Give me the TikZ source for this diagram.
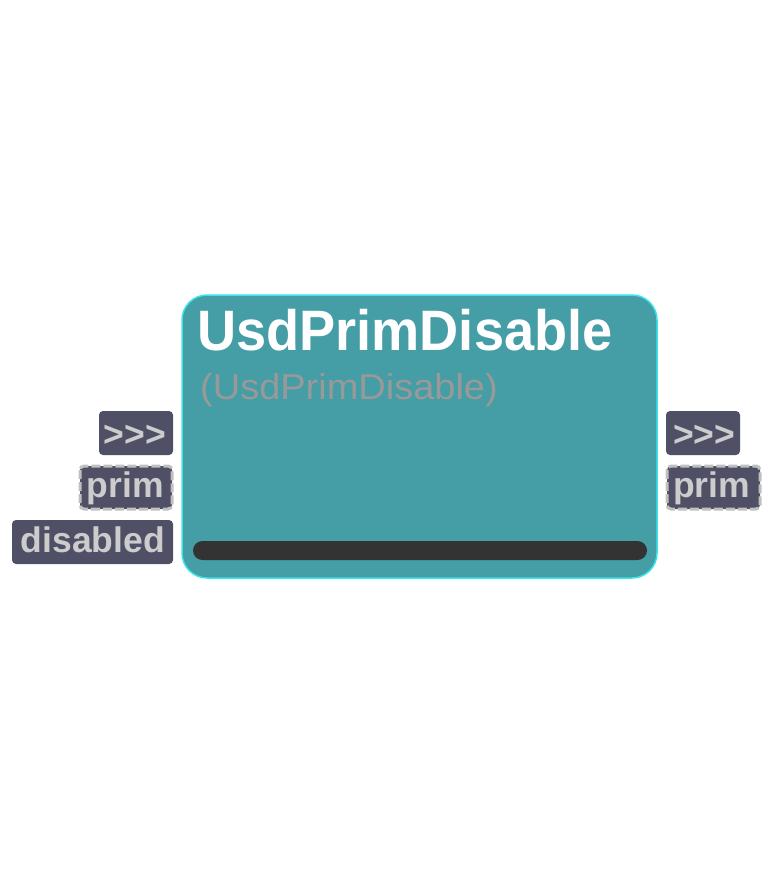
\documentclass[tikz,border=0pt]{standalone}
\usepackage{fontspec}
\setmainfont{Liberation Sans}
\definecolor{teal1}{HTML}{459DA5}
\definecolor{cyanb}{HTML}{3AE4EC}
\definecolor{portf}{HTML}{4F4F66}
\definecolor{portt}{HTML}{CCCCCC}
\definecolor{dashc}{HTML}{C0C0C0}
\definecolor{barc}{HTML}{333333}
\definecolor{subc}{HTML}{999999}
\tikzset{
  portbox/.style={fill=portf, rounded corners=4pt},
  dashport/.style={fill=portf, rounded corners=4pt, draw=dashc, line width=3pt, dash pattern=on 9pt off 3pt},
  porttext/.style={text=portt, font=\bfseries\fontsize{35.5}{38}\selectfont, inner sep=0pt},
}
\begin{document}
\begin{tikzpicture}[x=1pt,y=-1pt]
\useasboundingbox (0,0) rectangle (775,875);
% main node
\draw[fill=teal1, draw=cyanb, line width=1.5pt, rounded corners=25pt] (182,295) rectangle (657,578);
\node[anchor=base west, inner sep=0pt, text=white, font=\bfseries\fontsize{57}{60}\selectfont] (title) at (197,350) {\scalebox{0.95}[1]{UsdPrimDisable}};
\node[anchor=base west, inner sep=0pt, text=subc, font=\fontsize{36}{40}\selectfont] (sub) at (200,399) {\scalebox{1.055}[1]{(UsdPrimDisable)}};
\fill[barc, rounded corners=9.5pt] (193,541) rectangle (647,560);
% left ports
\fill[portbox] (99,411) rectangle (173,455);
\node[porttext, anchor=base east] (in1) at (166,446) {>{}>{}>};
\draw[dashport] (80,466) rectangle (172,509);
\node[porttext, anchor=base east] (in2) at (164,497) {prim};
\fill[portbox] (12,520) rectangle (173,564);
\node[porttext, anchor=base east] (in3) at (165,552) {disabled};
% right ports
\fill[portbox] (666,411) rectangle (740,455);
\node[porttext, anchor=base west] (out1) at (673,446) {>{}>{}>};
\draw[dashport] (667,466) rectangle (760,509);
\node[porttext, anchor=base west] (out2) at (673,497) {prim};
\end{tikzpicture}
\end{document}
